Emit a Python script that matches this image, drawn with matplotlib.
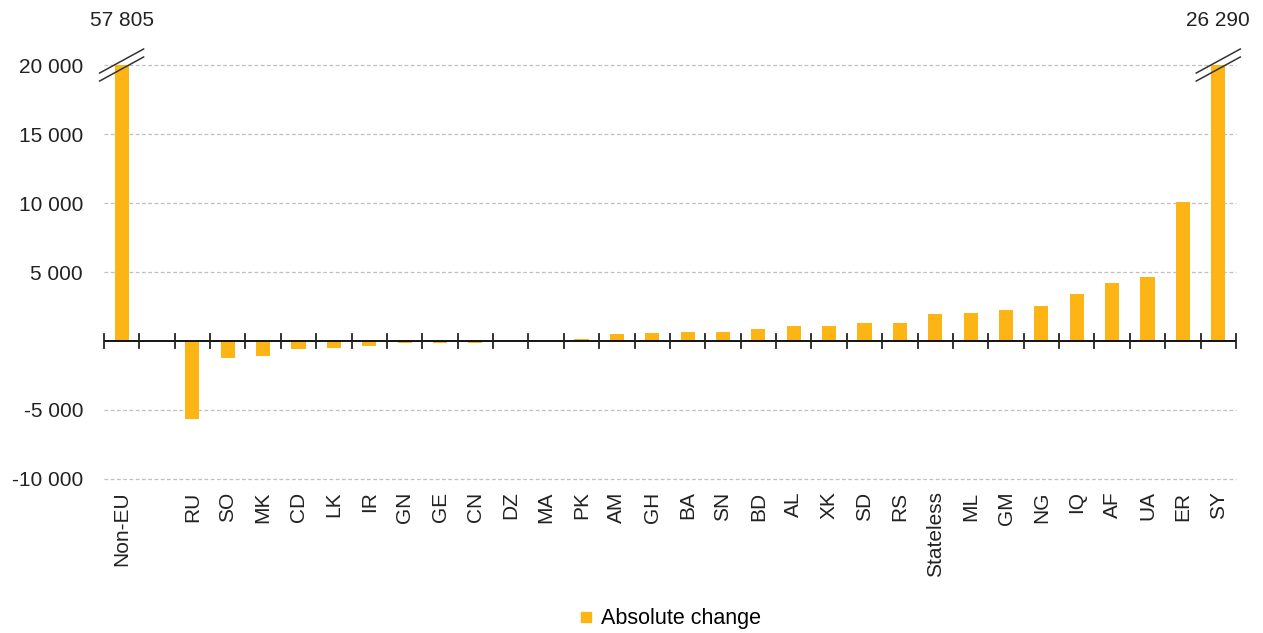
import numpy as np
import matplotlib.pyplot as plt

plt.rcParams['font.family'] = ['Liberation Sans', 'DejaVu Sans']

categories = ['Non-EU', '', 'RU', 'SO', 'MK', 'CD', 'LK', 'IR', 'GN', 'GE', 'CN', 'DZ',
              'MA', 'PK', 'AM', 'GH', 'BA', 'SN', 'BD', 'AL', 'XK', 'SD', 'RS',
              'Stateless', 'ML', 'GM', 'NG', 'IQ', 'AF', 'UA', 'ER', 'SY']
values = [57805, np.nan, -5650, -1200, -1100, -580, -480, -360, -170, -170, -150, -20,
          -10, 130, 480, 580, 680, 680, 870, 1090, 1090, 1300, 1300,
          1930, 2030, 2250, 2560, 3380, 4200, 4640, 10100, 26290]
y_ticks = [-10000, -5000, 5000, 10000, 15000, 20000]
y_max = 20000
y_min = -10000

color = '#FDB515'
text_color = '#222222'
fs = 15

fig = plt.figure(figsize=(12.63, 6.33), dpi=100)
ax = fig.add_axes([0.0823, 0.2433, 0.8963, 0.654])

x = np.arange(len(categories))
shown = [np.nan if np.isnan(v) else min(v, y_max) for v in values]
ax.bar(x, shown, width=0.4, color=color, zorder=3)

ax.set_xlim(-0.5, len(categories) - 0.5)
ax.set_ylim(y_min, y_max)

# dashed grid lines
for t in y_ticks:
    ax.axhline(t, color='#bfbfbf', linestyle=(0, (3, 2)), linewidth=0.9, zorder=1, clip_on=False)
ax.set_yticks(y_ticks)
ax.set_yticklabels([f'{t:,}'.replace(',', ' ') for t in y_ticks], fontsize=fs, color=text_color)
ax.tick_params(axis='y', length=0, pad=15)

# zero line with ticks at the category boundaries
ax.axhline(0, color='black', linewidth=1.3, zorder=4)
for b in np.arange(len(categories) + 1) - 0.5:
    px, py = ax.transData.transform((b, 0))
    fig.lines.append(plt.Line2D([px, px], [py - 7, py + 7], transform=None,
                                color=text_color, linewidth=1.3, zorder=5))

ax.set_xticks(x)
ax.set_xticklabels(categories, rotation=90, fontsize=fs, color=text_color, va='top')
ax.tick_params(axis='x', length=0, pad=9)

for s in ax.spines.values():
    s.set_visible(False)

# break marks and value labels for bars cut at the top
for i, v in enumerate(values):
    if not np.isnan(v) and v > y_max:
        px, py = ax.transData.transform((i, y_max))
        for dy in (-4, 4):
            fig.lines.append(plt.Line2D([px - 22, px + 22], [py + dy - 12, py + dy + 12],
                                        transform=None, color='#333333', linewidth=1.1))
        ax.annotate(f'{v:,}'.replace(',', ' '), xy=(i, y_max), xytext=(0, 25),
                    textcoords='offset points', ha='center', va='bottom', fontsize=fs,
                    color=text_color, annotation_clip=False)

# legend
h = plt.Line2D([], [], marker='s', linestyle='none', color=color, markersize=7.5)
fig.legend([h], ['Absolute change'], loc='lower center', bbox_to_anchor=(0.53, -0.025),
           frameon=False, fontsize=15.5, handletextpad=0.3, handlelength=0.8)

fig.savefig('out.png', dpi=100)
